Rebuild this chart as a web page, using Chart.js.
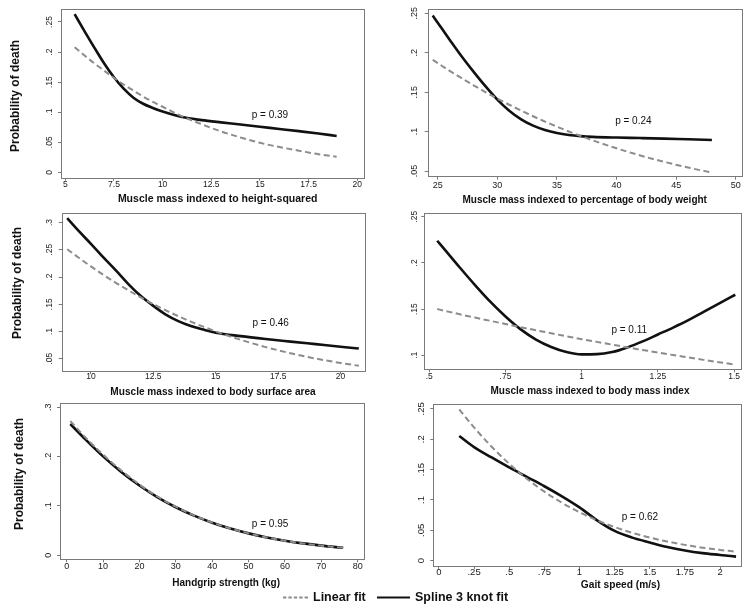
<!DOCTYPE html>
<html>
<head>
<meta charset="utf-8">
<script src="https://cdn.jsdelivr.net/npm/chart.js@4.4.1/dist/chart.umd.min.js"></script>
<style>
body { margin: 0; background: #fff; }
#wrap { position: relative; width: 751px; height: 614px; overflow: hidden; }
#wrap canvas { position: absolute; left: 0; top: 0; }
.leg { position: absolute; font: bold 12.5px "Liberation Sans", Arial, sans-serif; color: #111; line-height: 14px; white-space: nowrap; }
</style>
</head>
<body>
<div id="wrap">
  <canvas id="c1" width="751" height="614"></canvas>
  <canvas id="c2" width="751" height="614"></canvas>
  <canvas id="c3" width="751" height="614"></canvas>
  <canvas id="c4" width="751" height="614"></canvas>
  <canvas id="c5" width="751" height="614"></canvas>
  <canvas id="c6" width="751" height="614"></canvas>
  <svg style="position:absolute;left:283px;top:596px" width="26" height="3"><line x1="0" y1="1.5" x2="25" y2="1.5" stroke="#8c8c8c" stroke-width="2" stroke-dasharray="3.4 2"/></svg>
  <span class="leg" style="left:313px;top:590px">Linear fit</span>
  <svg style="position:absolute;left:377px;top:596px" width="34" height="3"><line x1="0" y1="1.5" x2="33" y2="1.5" stroke="#111" stroke-width="2"/></svg>
  <span class="leg" style="left:415px;top:590px">Spline 3 knot fit</span>
</div>
<script>
// ---- data ----
var hsqX      = [5.48, 6, 6.5, 7, 7.5, 8, 8.5, 9, 9.5, 10, 11, 12, 13, 14, 15, 16, 17, 18, 18.94];
var hsqLinear = [.208, .194, .181, .169, .157, .146, .136, .126, .117, .109, .093, .080, .068, .058, .049, .042, .036, .030, .026];
var hsqSpline = [.263, .234, .207, .181, .158, .139, .124, .114, .107, .101, .0918, .0868, .0830, .0795, .0758, .0721, .0684, .0645, .0604];

var pbwX      = [24.58, 25, 26, 27, 28, 29, 30, 31, 32, 33, 34, 35, 36, 37, 38, 40, 42, 44, 46, 48];
var pbwLinear = [.191, .1868, .177, .1677, .1587, .1501, .1418, .1340, .1266, .1194, .1127, .1062, .1001, .0944, .0889, .0788, .0697, .0616, .0544, .0480];
var pbwSpline = [.247, .238, .2165, .1955, .176, .1575, .1405, .1265, .1155, .1075, .1020, .0982, .0957, .0942, .0933, .0924, .0918, .0911, .0902, .0894];

var bsaX      = [9.05, 9.5, 10, 10.5, 11, 11.5, 12, 12.5, 13, 13.5, 14, 14.5, 15, 16, 17, 18, 19, 20, 20.73];
var bsaLinear = [.251, .2358, .2195, .2039, .1893, .1755, .1624, .1502, .1388, .1281, .1181, .1088, .1001, .0846, .0713, .0600, .0503, .0422, .0370];
var bsaSpline = [.308, .285, .261, .236, .212, .187, .165, .147, .131, .119, .110, .1035, .0978, .0915, .0862, .0814, .0767, .0720, .0686];

var bmiX      = [.526, .55, .6, .65, .7, .75, .8, .85, .9, .95, 1, 1.05, 1.1, 1.15, 1.2, 1.25, 1.3, 1.35, 1.4, 1.45, 1.504];
var bmiLinear = [.150, .1482, .1444, .1408, .1373, .1338, .1303, .1271, .1238, .1206, .1174, .1145, .1115, .1085, .1057, .1029, .1002, .0976, .0950, .0925, .0898];
var bmiSpline = [.224, .2146, .195, .176, .158, .142, .128, .117, .109, .1035, .101, .1012, .1035, .1085, .115, .1225, .130, .138, .147, .156, .1655];

var gripX      = [1, 5, 10, 15, 20, 25, 30, 35, 40, 45, 50, 55, 60, 65, 70, 76];
var gripLinear = [.272, .240, .204, .172, .1435, .119, .0985, .081, .0665, .0545, .0445, .0363, .0296, .0241, .0196, .0152];
var gripSpline = [.266, .236, .2005, .169, .1414, .1176, .0975, .0805, .0662, .0543, .0445, .0363, .0297, .0242, .0197, .0153];

var gaitX      = [.1445, .25, .375, .5, .625, .75, .875, 1, 1.125, 1.25, 1.375, 1.5, 1.625, 1.75, 1.875, 2, 2.114];
var gaitLinear = [.249, .2194, .1877, .1596, .135, .1138, .0954, .0798, .0665, .0554, .046, .0381, .0316, .0261, .0215, .0178, .0149];
var gaitSpline = [.2054, .187, .170, .1535, .138, .1226, .106, .0878, .0665, .0490, .0380, .0300, .0225, .0168, .0125, .0095, .0068];

// ticks
var hsqXTicks = [5, 7.5, 10, 12.5, 15, 17.5, 20];   var hsqXLabels = ['5', '7.5', '10', '12.5', '15', '17.5', '20'];
var hsqYTicks = [0, .05, .1, .15, .2, .25];          var hsqYLabels = ['0', '.05', '.1', '.15', '.2', '.25'];
var pbwXTicks = [25, 30, 35, 40, 45, 50];            var pbwXLabels = ['25', '30', '35', '40', '45', '50'];
var pbwYTicks = [.05, .1, .15, .2, .25];             var pbwYLabels = ['.05', '.1', '.15', '.2', '.25'];
var bsaXTicks = [10, 12.5, 15, 17.5, 20];            var bsaXLabels = ['10', '12.5', '15', '17.5', '20'];
var bsaYTicks = [.05, .1, .15, .2, .25, .3];         var bsaYLabels = ['.05', '.1', '.15', '.2', '.25', '.3'];
var bmiXTicks = [.5, .75, 1, 1.25, 1.5];             var bmiXLabels = ['.5', '.75', '1', '1.25', '1.5'];
var bmiYTicks = [.1, .15, .2, .25];                  var bmiYLabels = ['.1', '.15', '.2', '.25'];
var gripXTicks = [0, 10, 20, 30, 40, 50, 60, 70, 80]; var gripXLabels = ['0', '10', '20', '30', '40', '50', '60', '70', '80'];
var gripYTicks = [0, .1, .2, .3];                    var gripYLabels = ['0', '.1', '.2', '.3'];
var gaitXTicks = [0, .25, .5, .75, 1, 1.25, 1.5, 1.75, 2]; var gaitXLabels = ['0', '.25', '.5', '.75', '1', '1.25', '1.5', '1.75', '2'];
var gaitYTicks = [0, .05, .1, .15, .2, .25];         var gaitYLabels = ['0', '.05', '.1', '.15', '.2', '.25'];

var xTitles = ['Muscle mass indexed to height-squared', 'Muscle mass indexed to percentage of body weight',
               'Muscle mass indexed to body surface area', 'Muscle mass indexed to body mass index',
               'Handgrip strength (kg)', 'Gait speed (m/s)'];
var pLabels = ['p = 0.39', 'p = 0.24', 'p = 0.46', 'p = 0.11', 'p = 0.95', 'p = 0.62'];
var yTitle = 'Probability of death';

Chart.defaults.font.family = '"Liberation Sans", Arial, sans-serif';
var FONT = '"Liberation Sans", Arial, sans-serif';
var W = 751, H = 614, YW = 30, XH = 20;

// stata-like frame, p value, axis titles
var stataBits = {
  id: 'stataBits',
  afterDraw: function (chart, args, o) {
    var ctx = chart.ctx, a = chart.chartArea;
    ctx.save();
    ctx.strokeStyle = '#7a7a7a';
    ctx.lineWidth = 1;
    ctx.strokeRect(Math.round(a.left) + 0.5, Math.round(a.top) + 0.5, Math.round(a.right - a.left), Math.round(a.bottom - a.top));
    ctx.fillStyle = '#111';
    ctx.textAlign = 'center';
    ctx.textBaseline = 'middle';
    ctx.font = '10px ' + FONT;
    ctx.fillText(o.p, chart.scales.x.getPixelForValue(o.px), chart.scales.y.getPixelForValue(o.py));
    ctx.font = 'bold ' + o.xtSize + 'px ' + FONT;
    ctx.fillText(o.xt, (a.left + a.right) / 2 + o.xtDx, o.xtY);
    if (o.yt) {
      ctx.translate(o.ytX, o.ytY);
      ctx.rotate(-Math.PI / 2);
      ctx.font = 'bold 12px ' + FONT;
      ctx.fillText(o.yt, 0, 0);
    }
    ctx.restore();
  }
};

function pts(xs, ys) {
  return xs.map(function (x, i) { return { x: x, y: ys[i] }; });
}

function panel(id, xs, lin, spl, xt, xl, yt, yl, g) {
  new Chart(document.getElementById(id), {
    type: 'scatter',
    data: {
      datasets: [{
        label: 'Linear fit',
        data: pts(xs, lin),
        showLine: true,
        borderColor: '#8c8c8c',
        borderWidth: 2,
        borderDash: [6, 3.5],
        pointRadius: 0,
        cubicInterpolationMode: 'monotone'
      }, {
        label: 'Spline 3 knot fit',
        data: pts(xs, spl),
        showLine: true,
        borderColor: '#111',
        borderWidth: 2.6,
        pointRadius: 0,
        cubicInterpolationMode: 'monotone'
      }]
    },
    options: {
      responsive: false,
      animation: false,
      events: [],
      layout: { padding: { left: g.box[0] - YW, top: g.box[1], right: W - g.box[2], bottom: H - g.box[3] - XH } },
      scales: {
        x: {
          type: 'linear', min: g.x[0], max: g.x[1],
          afterBuildTicks: function (s) { s.ticks = xt.map(function (v) { return { value: v }; }); },
          afterFit: function (s) { s.height = XH; },
          grid: { drawOnChartArea: false, color: '#7a7a7a', tickLength: 3 },
          border: { display: false },
          ticks: { autoSkip: false, maxRotation: 0, color: '#1a1a1a', padding: g.xPad,
                   font: { size: g.fs, lineHeight: 1 },
                   callback: function (v, i) { return xl[i]; } }
        },
        y: {
          type: 'linear', min: g.y[0], max: g.y[1],
          afterBuildTicks: function (s) { s.ticks = yt.map(function (v) { return { value: v }; }); },
          afterFit: function (s) { s.width = YW; },
          grid: { drawOnChartArea: false, color: '#7a7a7a', tickLength: 3 },
          border: { display: false },
          ticks: { autoSkip: false, minRotation: 90, maxRotation: 90, crossAlign: 'center', color: '#1a1a1a',
                   padding: g.yPad, font: { size: g.fs, lineHeight: 1 },
                   callback: function (v, i) { return yl[i]; } }
        }
      },
      plugins: {
        legend: { display: false },
        tooltip: { enabled: false },
        stataBits: g.ann
      }
    },
    plugins: [stataBits]
  });
}

panel('c1', hsqX, hsqLinear, hsqSpline, hsqXTicks, hsqXLabels, hsqYTicks, hsqYLabels, {
  box: [61, 9, 364.3, 177.7], x: [4.78, 20.36], y: [-0.009, 0.2716], fs: 8.5, xPad: -0.75, yPad: 2.8,
  ann: { p: pLabels[0], px: 15.51, py: .0953, xt: xTitles[0], xtSize: 10.5, xtDx: 5, xtY: 199.5, yt: yTitle, ytX: 16, ytY: 96 }
});
panel('c2', pbwX, pbwLinear, pbwSpline, pbwXTicks, pbwXLabels, pbwYTicks, pbwYLabels, {
  box: [427.7, 9.3, 741.7, 176.7], x: [24.16, 50.5], y: [.0428, .255], fs: 9, xPad: 1.3, yPad: 3.45,
  ann: { p: pLabels[1], px: 41.41, py: .1127, xt: xTitles[1], xtSize: 10, xtDx: 0, xtY: 200.5 }
});
panel('c3', bsaX, bsaLinear, bsaSpline, bsaXTicks, bsaXLabels, bsaYTicks, bsaYLabels, {
  box: [61.7, 213.3, 364.3, 371], x: [8.83, 20.95], y: [.0274, .317], fs: 8.5, xPad: -2.05, yPad: 3.5,
  ann: { p: pLabels[2], px: 17.2, py: .115, xt: xTitles[2], xtSize: 10.1, xtDx: 0, xtY: 392.3, yt: yTitle, ytX: 18, ytY: 283 }
});
panel('c4', bmiX, bmiLinear, bmiSpline, bmiXTicks, bmiXLabels, bmiYTicks, bmiYLabels, {
  box: [424.3, 213.3, 741.7, 369.3], x: [.4836, 1.525], y: [.0848, .2537], fs: 8.5, xPad: -0.35, yPad: 1.1,
  ann: { p: pLabels[3], px: 1.156, py: .1274, xt: xTitles[3], xtSize: 10, xtDx: 7, xtY: 391.7 }
});
panel('c5', gripX, gripLinear, gripSpline, gripXTicks, gripXLabels, gripYTicks, gripYLabels, {
  box: [60, 403.3, 364.3, 559.3], x: [-1.84, 81.8], y: [-.008, .308], fs: 9, xPad: -0.6, yPad: 4.95,
  ann: { p: pLabels[4], px: 55.9, py: .0629, xt: xTitles[4], xtSize: 10, xtDx: 14, xtY: 583.3, yt: yTitle, ytX: 20, ytY: 474 }
});
panel('c6', gaitX, gaitLinear, gaitSpline, gaitXTicks, gaitXLabels, gaitYTicks, gaitYLabels, {
  box: [433.3, 404, 741.7, 566], x: [-.04, 2.154], y: [-.0087, .258], fs: 9.5, xPad: -0.95, yPad: 2.0,
  ann: { p: pLabels[5], px: 1.43, py: .0716, xt: xTitles[5], xtSize: 10.2, xtDx: 33, xtY: 585 }
});
</script>
</body>
</html>
